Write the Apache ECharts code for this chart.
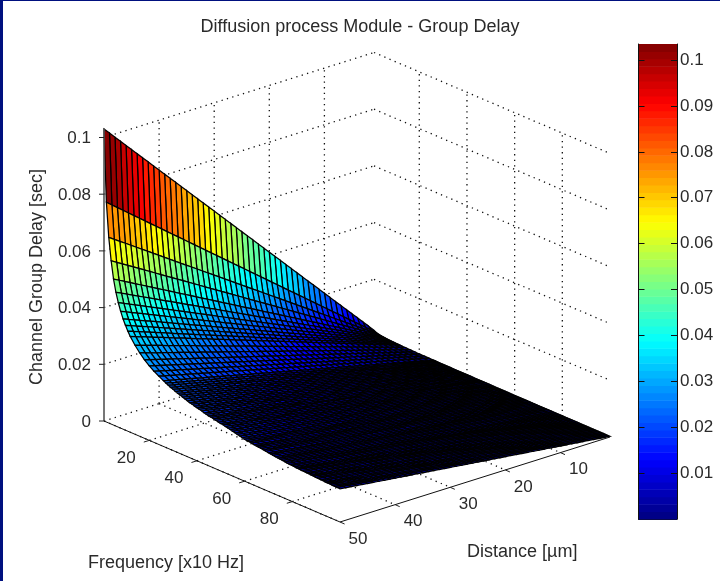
<!DOCTYPE html>
<html><head><meta charset="utf-8">
<style>html,body{margin:0;padding:0;background:#fff}#c{width:720px;height:581px}</style>
<script src="https://cdn.jsdelivr.net/npm/echarts@6/dist/echarts.min.js"></script>
</head><body><div id="c"></div>
<script>
const frequencies = [1,2,3,4,5,6,7,8,9,10,11,12,14,16,18,20,22,24,26,27,28,29,30,31,32,33,34,35,36,37,38,39,40,41,42,43,44,45,46,47,48,49,50,51,52,53,54,55,56,57,58,59,60,61,62,63,64,65,66,67,68,69,70,71,72,73,74,75,76,77,78,79,80,81,82,83,84,85,86,87,88,89,90,91,92,93,94,95,96,97,98,99,100];
const distances = [1,2,3,4,5,6,7,8,9,10,11,12,13,14,15,16,17,18,19,20,21,22,23,24,25,26,27,28,29,30,31,32,33,34,35,36,37,38,39,40,41,42,43,44,45,46,47,48,49,50];
// Delay (ms) read along the 50 um edge of the surface, one value per frequency row
const edgeDelayMs = [103,77.5,65.5,57.6,51.5,47.2,43.9,41.2,38.9,37.0,35.3,33.8,31.4,29.4,27.7,26.3,25.1,24.1,23.2,22.7,22.3,21.9,21.6,21.2,20.9,20.6,20.3,20.0,19.7,19.4,19.2,18.9,18.7,18.5,18.3,18.0,17.8,17.6,17.5,17.3,17.1,16.9,16.7,16.6,16.4,16.2,16.0,15.8,15.6,15.4,15.2,15.0,14.8,14.7,14.6,14.5,14.3,14.2,14.1,14.0,13.9,13.8,13.6,13.5,13.4,13.3,13.2,13.1,13.0,12.9,12.8,12.7,12.7,12.6,12.5,12.5,12.4,12.4,12.3,12.3,12.2,12.2,12.1,12.1,12.0,12.0,11.9,11.9,11.9,11.8,11.8,11.8,11.7];
const delayTicks = [0,0.02,0.04,0.06,0.08,0.1];
const frequencyTicks = [20,40,60,80];
const distanceTicks = [10,20,30,40,50];
const colorbarTicks = [0.01,0.02,0.03,0.04,0.05,0.06,0.07,0.08,0.09,0.1];
const colorbarMax = 0.1035;
const levels = Array.from({length:64},(_,k)=>k);

const fMin=frequencies[0], fMax=frequencies[frequencies.length-1];
const dMin=distances[0], dMax=distances[distances.length-1];
// rows are straight lines in distance: each row's edge delay scales with d/dMax
const delayTable = edgeDelayMs.map(v=>distances.map(d=>v/1000*d/dMax));

// Orthographic view of the MATLAB axes box onto the page-sized hidden cartesian axes
function project(f,d,z){
  return [104+(f-fMin)*236/99+(dMax-d)*270/49,
          421+(f-fMin)*101/99-(dMax-d)*85/49-z*2835];
}
function clamp(v){return Math.max(0,Math.min(1,v));}
function jet(t){
  const r=clamp(Math.min(4*t-1.5,-4*t+4.5)),g=clamp(Math.min(4*t-0.5,-4*t+3.5)),b=clamp(Math.min(4*t+0.5,-4*t+2.5));
  return 'rgb('+Math.round(r*255)+','+Math.round(g*255)+','+Math.round(b*255)+')';
}
function levelColor(z){
  const k=Math.max(0,Math.min(63,Math.floor(z/colorbarMax*64)));
  return jet((k+0.5)/64);
}

const gridSegs=[];
delayTicks.forEach(z=>{
  gridSegs.push([fMin,dMax,z,fMin,dMin,z]);
  gridSegs.push([fMin,dMin,z,fMax,dMin,z]);
});
distanceTicks.forEach(d=>{
  if(d!==dMax) gridSegs.push([fMin,d,0,fMin,d,0.1]);
  gridSegs.push([fMin,d,0,fMax,d,0]);
});
frequencyTicks.forEach(f=>{
  gridSegs.push([f,dMin,0,f,dMin,0.1]);
  gridSegs.push([f,dMax,0,f,dMin,0]);
});

const cells=[];
for(let i=0;i<frequencies.length-1;i++)for(let j=0;j<distances.length-1;j++)cells.push([i,j]);

const axisSegs=[
  {s:[fMin,dMax,0,fMin,dMax,0.1033],c:'#555',w:1.6},
  {s:[fMin,dMax,0,fMax,dMax,0],c:'#111',w:1},
  {s:[fMax,dMax,0,fMax,dMin,0],c:'#111',w:1}
];
delayTicks.forEach(z=>axisSegs.push({px:[project(fMin,dMax,z),[-5,0]],c:'#222',w:1}));
frequencyTicks.forEach(f=>axisSegs.push({px:[project(f,dMax,0),[-5.5,1.7]],c:'#222',w:1}));
distanceTicks.forEach(d=>axisSegs.push({px:[project(fMax,d,0),[4.6,2]],c:'#222',w:1}));

const tickTexts=[];
delayTicks.forEach(z=>{const p=project(fMin,dMax,z);tickTexts.push({p,dx:-13,dy:1,a:'right',t:String(z)});});
frequencyTicks.forEach(f=>{const p=project(f,dMax,0);tickTexts.push({p,dx:-23,dy:18,a:'center',t:String(f)});});
distanceTicks.forEach(d=>{const p=project(fMax,d,0);tickTexts.push({p,dx:18,dy:17,a:'center',t:String(d)});});

const font='"Liberation Sans", Arial, sans-serif';
const txt='#2a2a2a';
const chart=echarts.init(document.getElementById('c'),null,{renderer:'canvas'});
chart.setOption({
  animation:false,
  backgroundColor:'#fff',
  title:{text:'Diffusion process Module - Group Delay',left:355,top:13,textAlign:'center',
    textStyle:{fontFamily:font,fontSize:18,fontWeight:'normal',color:txt}},
  grid:[
    {left:0,top:0,width:720,height:581,containLabel:false},
    {left:638.5,top:44,width:38.5,height:475,containLabel:false}
  ],
  xAxis:[
    {type:'value',gridIndex:0,min:0,max:720,show:false},
    {type:'value',gridIndex:1,min:0,max:1,axisLine:{show:true,onZero:false,lineStyle:{color:'#111'}},axisTick:{show:false},axisLabel:{show:false},splitLine:{show:false}},
    {type:'value',gridIndex:1,min:0,max:1,position:'top',axisLine:{show:true,onZero:false,lineStyle:{color:'#111'}},axisTick:{show:false},axisLabel:{show:false},splitLine:{show:false}}
  ],
  yAxis:[
    {type:'value',gridIndex:0,min:0,max:581,inverse:true,show:false},
    {type:'value',gridIndex:1,min:0,max:colorbarMax,interval:0.01,position:'right',
      axisLine:{show:true,onZero:false,lineStyle:{color:'#111'}},
      axisTick:{inside:true,length:6,lineStyle:{color:'#111'},customValues:colorbarTicks},
      axisLabel:{margin:3,fontFamily:font,fontSize:17,color:txt,customValues:colorbarTicks,formatter:v=>String(+v.toFixed(2))},
      splitLine:{show:false},z:5},
    {type:'value',gridIndex:1,min:0,max:colorbarMax,interval:0.01,position:'left',
      axisLine:{show:true,onZero:false,lineStyle:{color:'#111'}},
      axisTick:{inside:true,length:6,lineStyle:{color:'#111'},customValues:colorbarTicks},
      axisLabel:{show:false},splitLine:{show:false},z:5}
  ],
  series:[
    {type:'custom',name:'grid',coordinateSystem:'cartesian2d',xAxisIndex:0,yAxisIndex:0,silent:true,clip:false,z:1,
      data:gridSegs.map((s,i)=>[i]),
      renderItem:(p,api)=>{
        const s=gridSegs[api.value(0)];
        const a=api.coord(project(s[0],s[1],s[2])),b=api.coord(project(s[3],s[4],s[5]));
        return {type:'line',shape:{x1:a[0],y1:a[1],x2:b[0],y2:b[1]},style:{stroke:'#111',lineWidth:1.3,lineDash:[1.3,4.3]}};
      }},
    {type:'custom',name:'Group Delay',coordinateSystem:'cartesian2d',xAxisIndex:0,yAxisIndex:0,silent:true,clip:false,z:2,progressive:0,
      data:cells,
      renderItem:(p,api)=>{
        const i=api.value(0),j=api.value(1);
        const f0=frequencies[i],f1=frequencies[i+1],d0=distances[j],d1=distances[j+1];
        const pts=[[f0,d0,delayTable[i][j]],[f0,d1,delayTable[i][j+1]],[f1,d1,delayTable[i+1][j+1]],[f1,d0,delayTable[i+1][j]]]
          .map(v=>api.coord(project(v[0],v[1],v[2])));
        return {type:'polygon',shape:{points:pts},style:{fill:levelColor(delayTable[i][j+1]),stroke:'#000',lineWidth:1.25}};
      }},
    {type:'custom',name:'axes',coordinateSystem:'cartesian2d',xAxisIndex:0,yAxisIndex:0,silent:true,clip:false,z:3,
      data:axisSegs.map((s,i)=>[i]),
      renderItem:(p,api)=>{
        const s=axisSegs[api.value(0)];
        let a,b;
        if(s.s){a=api.coord(project(s.s[0],s.s[1],s.s[2]));b=api.coord(project(s.s[3],s.s[4],s.s[5]));}
        else{a=api.coord(s.px[0]);b=[a[0]+s.px[1][0],a[1]+s.px[1][1]];}
        return {type:'line',shape:{x1:a[0],y1:a[1],x2:b[0],y2:b[1]},style:{stroke:s.c,lineWidth:s.w}};
      }},
    {type:'custom',name:'tick labels',coordinateSystem:'cartesian2d',xAxisIndex:0,yAxisIndex:0,silent:true,clip:false,z:4,
      data:tickTexts.map((s,i)=>[i]),
      renderItem:(p,api)=>{
        const s=tickTexts[api.value(0)];
        const a=api.coord(s.p);
        return {type:'text',style:{x:a[0]+s.dx,y:a[1]+s.dy,text:s.t,textAlign:s.a,textVerticalAlign:'middle',fontFamily:font,fontSize:17,fill:txt}};
      }},
    {type:'custom',name:'colorbar',coordinateSystem:'cartesian2d',xAxisIndex:1,yAxisIndex:1,silent:true,z:2,
      data:levels.map(k=>[k]),
      renderItem:(p,api)=>{
        const k=api.value(0);
        const a=api.coord([0,(k+1)/64*colorbarMax]),b=api.coord([1,k/64*colorbarMax]);
        return {type:'rect',shape:{x:a[0],y:a[1],width:b[0]-a[0],height:b[1]-a[1]+0.5},style:{fill:jet((k+0.5)/64)}};
      }}
  ],
  graphic:[
    {type:'text',left:88,top:554,style:{text:'Frequency [x10 Hz]',fontFamily:font,fontSize:18,fill:txt}},
    {type:'text',left:467,top:543,style:{text:'Distance [\u00b5m]',fontFamily:font,fontSize:18,fill:txt}},
    {type:'text',x:37,y:277,rotation:Math.PI/2,style:{text:'Channel Group Delay [sec]',fontFamily:font,fontSize:18,fill:txt,textAlign:'center',textVerticalAlign:'middle'}},
    {type:'rect',shape:{x:0,y:0,width:3,height:581},style:{fill:'#00107f'},silent:true},
    {type:'rect',shape:{x:0,y:0,width:720,height:1},style:{fill:'#00107f'},silent:true}
  ]
});
</script></body></html>
